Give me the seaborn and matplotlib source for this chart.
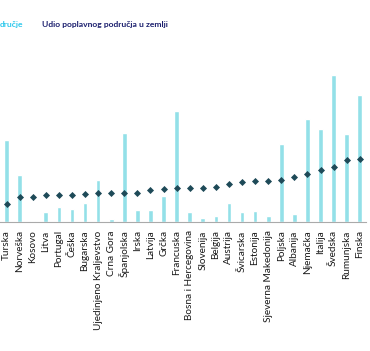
import pandas as pd
import seaborn as sns
import matplotlib.pyplot as plt

countries = ["Turska", "Norveška", "Kosovo", "Litva", "Portugal", "Češka", "Bugarska",
             "Ujedinjeno Kraljevstvo", "Crna Gora", "Španjolska", "Irska", "Latvija",
             "Grčka", "Francuska", "Bosna i Hercegovina", "Slovenija", "Belgija",
             "Austrija", "Švicarska", "Estonija", "Sjeverna Makedonija", "Poljska",
             "Albanija", "Njemačka", "Italija", "Švedska", "Rumunjska", "Finska"]

# flooded area (bars), arbitrary units
flood_area = [82, 47, 1, 10, 15, 13, 19, 42, 3, 89, 12, 12, 26, 111, 10, 4, 6,
              19, 10, 11, 6, 78, 8, 103, 93, 147, 88, 127]

# share of flood area in the country (diamonds), same units
flood_share = [18, 25, 25, 27, 27, 27, 28, 29, 29, 29, 29, 32, 33, 34, 34, 34, 35,
               38, 40, 40.5, 41, 42, 45, 48, 52, 55, 62, 63]

bar_color = "#93e0e8"
dot_color = "#1e4a58"

df = pd.DataFrame({"country": countries, "area": flood_area, "share": flood_share})

sns.set_style("white")
plt.rcParams["font.family"] = ["Lato", "DejaVu Sans"]

fig = plt.figure(figsize=(3.70, 3.51), dpi=100)
ax = fig.add_axes([0.0, 0.3675, 0.99, 0.456])

sns.barplot(data=df, x="country", y="area", color=bar_color, width=0.36,
            saturation=1, ax=ax)
sns.stripplot(data=df, x="country", y="share", color=dot_color, marker="D",
              size=3.6, jitter=False, ax=ax, zorder=5)

ax.set_xlim(-0.5, 27.5)
ax.set_ylim(0, 160)
ax.set_xlabel("")
ax.set_ylabel("")
ax.set_yticks([])

# category labels, ticks only at the boundaries
ax.set_xticks(range(len(countries)))
ax.set_xticklabels(countries, rotation=90, fontsize=7.2, color="#1a1a1a")
ax.tick_params(axis="x", which="major", length=0, pad=6)
ax.set_xticks([i - 0.5 for i in range(len(countries) + 1)], minor=True)
ax.tick_params(axis="x", which="minor", length=3, width=0.6, color="#999999",
               direction="out")

for side in ["top", "right", "left"]:
    ax.spines[side].set_visible(False)
ax.spines["bottom"].set_color("#aaaaaa")
ax.spines["bottom"].set_linewidth(0.8)

# legend texts (the first one is cut off on the left in the source)
fig.text(0.0, 1 - 25 / 351, "dručje", color="#2ec8ec",
         fontsize=6.1, fontweight="bold", ha="left", va="center")
fig.text(42 / 370, 1 - 25 / 351, "Udio poplavnog područja u zemlji", color="#1b1f6e",
         fontsize=6.1, fontweight="bold", ha="left", va="center")

fig.savefig("out.png", dpi=100)
plt.close()
